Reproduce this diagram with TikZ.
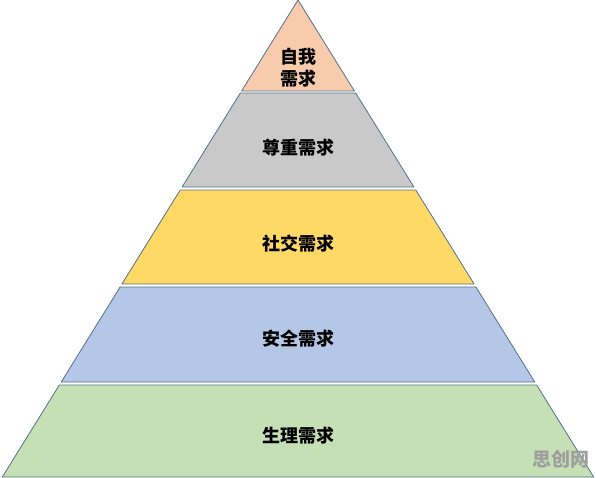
\documentclass[tikz,border=0pt]{standalone}
\usepackage{fontspec}
\newfontfamily\cjk{Noto Sans CJK SC}
\usepackage{tikz}

\definecolor{edge}{RGB}{84,112,140}

\begin{document}
\begin{tikzpicture}[
    x={(1pt,0)}, y={(0,-1pt)},
    every node/.style={font=\cjk\bfseries\fontsize{18}{22}\selectfont, align=center},
    level/.style={draw=edge, line width=0.8pt, line join=round},
    wmark/.style={font=\cjk\bfseries\fontsize{19}{22}\selectfont, text=gray!75, align=center}
]
\useasboundingbox (0,0) rectangle (596,477);
% five layers of the pyramid, top to bottom
\draw[level, fill={rgb,255:red,248;green,203;blue,173}] (298,0) -- (354.4,91) -- (241.6,91) -- cycle;
\draw[level, fill={rgb,255:red,201;green,201;blue,201}] (240.3,93) -- (355.7,93) -- (413.9,187) -- (182.1,187) -- cycle;
\draw[level, fill={rgb,255:red,255;green,217;blue,102}] (180.2,190) -- (415.8,190) -- (474.1,284) -- (121.9,284) -- cycle;
\draw[level, fill={rgb,255:red,180;green,199;blue,231}] (120.1,287) -- (475.9,287) -- (534.8,382) -- (61.2,382) -- cycle;
\draw[level, fill={rgb,255:red,197;green,224;blue,180}] (59.3,385) -- (536.7,385) -- (593.7,477) -- (2.3,477) -- cycle;

\node (self) at (298,68) {自我\\需求};
\node (esteem) at (298,148) {尊重需求};
\node (social) at (298,244) {社交需求};
\node (safety) at (298,339) {安全需求};
\node (body) at (298,436) {生理需求};

\node[wmark] (wm) at (561,459) {思创网};
\end{tikzpicture}
\end{document}
